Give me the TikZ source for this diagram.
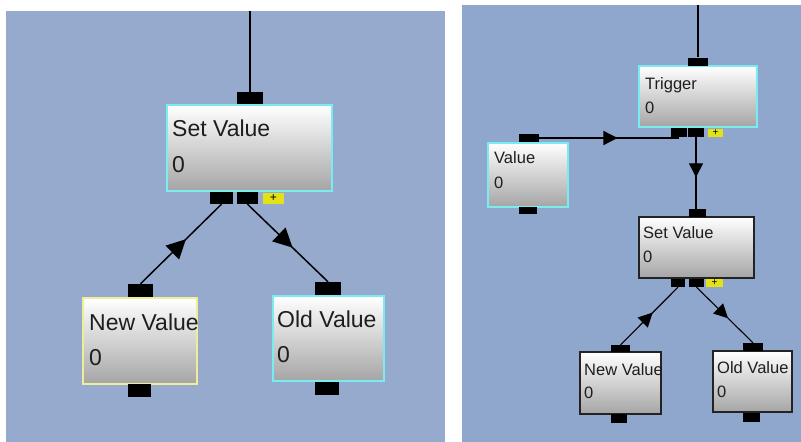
\documentclass[tikz,border=0pt]{standalone}
\usepackage{fontspec}
\setmainfont{Liberation Sans}
\usetikzlibrary{arrows.meta,decorations.markings}
\definecolor{bgleft}{RGB}{149,170,204}
\definecolor{bgright}{RGB}{143,166,205}
\definecolor{cybord}{RGB}{120,236,240}
\definecolor{yelbord}{RGB}{238,238,150}
\definecolor{darkbord}{RGB}{35,35,35}
\definecolor{boxgray}{RGB}{165,165,165}
\definecolor{plusyel}{RGB}{226,226,20}
\definecolor{txt}{RGB}{30,30,30}

\begin{document}
\begin{tikzpicture}[x=1pt,y=-1pt,
  blk/.style={draw=#1,line width=1.6pt,top color=white,bottom color=boxgray,inner sep=0},
  port/.style 2 args={fill=black,inner sep=0,minimum width=#1,minimum height=#2},
  add/.style 2 args={fill=plusyel,inner sep=0,minimum width=#1,minimum height=#2,font=\fontsize{12}{12}\selectfont},
  lbl/.style={anchor=base west,inner sep=0,text=txt,font=\fontsize{#1}{#1}\selectfont},
  link/.style={line width=#1},
  flow/.style={postaction={decorate},decoration={markings,mark=at position 0.56 with {\arrow{Triangle[length=#1,width=#1]}}}}]
  \useasboundingbox (0,0) rectangle (801,442);
  \fill[white] (0,0) rectangle (801,442);

  \fill[bgleft] (6,11) rectangle (445,442);
  \coordinate (ltop) at (250,11);
  \node[blk=cybord,minimum width=165,minimum height=86] (set) at (249.5,148) {};
  \node[port={26}{12}] (setin) at (250,98) {};
  \node[port={23}{12}] (setout1) at (221.5,198) {};
  \node[port={21}{12}] (setout2) at (247.5,198) {};
  \node[add={21}{11}] (setadd) at (273.5,198.5) {+};
  \node[lbl=23] (settitle) at (172,136) {Set Value};
  \node[lbl=23] (setval) at (172,172) {0};

  \node[blk=yelbord,minimum width=114,minimum height=86] (new) at (140,341) {};
  \node[port={25}{13}] (newin) at (140.5,290.5) {};
  \node[port={23}{13}] (newout) at (139.5,390.5) {};
  \node[lbl=23] (newtitle) at (89,330) {New Value};
  \node[lbl=23] (newval) at (89,365) {0};

  \node[blk=cybord,minimum width=111,minimum height=85] (old) at (328.5,338.5) {};
  \node[port={26}{13}] (oldin) at (328,288.5) {};
  \node[port={24}{13}] (oldout) at (327,388.5) {};
  \node[lbl=23] (oldtitle) at (277,327) {Old Value};
  \node[lbl=23] (oldval) at (277,362) {0};

  \draw[link=2] (ltop) -- (setin.north);
  \draw[link=1.5,flow=19] (newin.north) -- (setout1.south);
  \draw[link=1.5,flow=19] (setout2.south) -- (oldin.north);

  \fill[bgright] (462,5) rectangle (801,442);
  \coordinate (rtop) at (698,5);
  \node[blk=cybord,minimum width=118,minimum height=61] (trig) at (698,96.5) {};
  \node[port={20}{8}] (trigin) at (698,61.5) {};
  \node[port={16}{9}] (trigout1) at (679,132.5) {};
  \node[port={16}{9}] (trigout2) at (696,132.5) {};
  \node[add={15}{8},font=\fontsize{10}{10}\selectfont] (trigadd) at (715.5,133) {+};
  \node[lbl=16.5] (trigtitle) at (645,89) {Trigger};
  \node[lbl=16.5] (trigval) at (645,113) {0};

  \node[blk=cybord,minimum width=80,minimum height=64] (val) at (528,175) {};
  \node[port={20}{8}] (valin) at (529,138) {};
  \node[port={18}{7}] (valout) at (528,210.5) {};
  \node[lbl=16.5] (valtitle) at (494,163) {Value};
  \node[lbl=16.5] (valval) at (494,188) {0};

  \node[blk=darkbord,line width=1.2pt,minimum width=115,minimum height=61] (rset) at (696.5,247.5) {};
  \node[port={17}{8}] (rsetin) at (697.5,213) {};
  \node[port={14}{8}] (rsetout1) at (678,283) {};
  \node[port={15}{8}] (rsetout2) at (696.5,283) {};
  \node[add={17}{8},font=\fontsize{10}{10}\selectfont] (rsetadd) at (714.5,283) {+};
  \node[lbl=16.5] (rsettitle) at (643,238) {Set Value};
  \node[lbl=16.5] (rsetval) at (643,262) {0};

  \node[blk=darkbord,line width=1.2pt,minimum width=81,minimum height=62] (rnew) at (620.5,383) {};
  \node[port={19}{7}] (rnewin) at (620.5,348.5) {};
  \node[port={16}{9}] (rnewout) at (619,418.5) {};
  \node[lbl=16.5] (rnewtitle) at (584,375) {New Value};
  \node[lbl=16.5] (rnewval) at (584,398) {0};

  \node[blk=darkbord,line width=1.2pt,minimum width=79,minimum height=61] (rold) at (752.5,381.5) {};
  \node[port={20}{8}] (roldin) at (753,347) {};
  \node[port={17}{9}] (roldout) at (751.5,417.5) {};
  \node[lbl=16.5] (roldtitle) at (717,373) {Old Value};
  \node[lbl=16.5] (roldval) at (717,397) {0};

  \draw[link=1.6] (rtop) -- (trigin.north);
  \draw[link=1.3,flow=14] (valin.east) -- (valin.east -| trigout1.center);
  \draw[link=1.3,flow=14] (trigout2.south) -- (trigout2.south |- rsetin.north);
  \draw[link=1.1,flow=14] (rnewin.north) -- (rsetout1.south);
  \draw[link=1.1,flow=14] (rsetout2.south) -- (roldin.north);
\end{tikzpicture}
\end{document}
